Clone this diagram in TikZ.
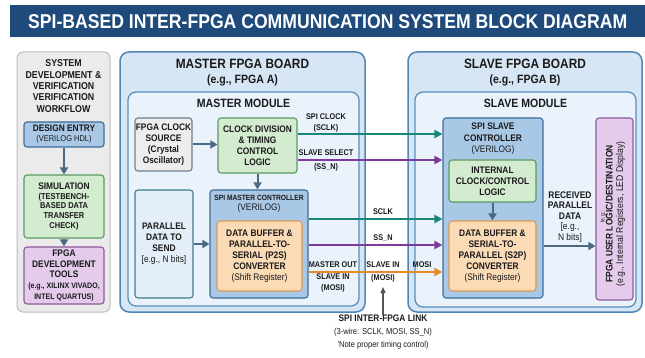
\documentclass[tikz,border=0pt]{standalone}
\usepackage{fontspec}
\setmainfont{Liberation Sans}[FakeStretch=0.88]
\usetikzlibrary{arrows.meta}
\definecolor{navy}{HTML}{1E4B7B}
\definecolor{txt}{HTML}{1A1A1A}
\definecolor{panelf}{HTML}{EBEBEB}
\definecolor{panell}{HTML}{BDBDBD}
\definecolor{boardf}{HTML}{D6E6F4}
\definecolor{boardl}{HTML}{4F86B5}
\definecolor{modf}{HTML}{EAF3FB}
\definecolor{modl}{HTML}{5A8FBE}
\definecolor{grayf}{HTML}{EDEDED}
\definecolor{grayl}{HTML}{6F7F8E}
\definecolor{greenf}{HTML}{D3EBCF}
\definecolor{greenl}{HTML}{5A9A62}
\definecolor{bluef}{HTML}{A9C8E6}
\definecolor{bluel}{HTML}{3F6C9C}
\definecolor{orangef}{HTML}{FBDAB6}
\definecolor{orangel}{HTML}{D99A52}
\definecolor{purplef}{HTML}{E4CBEC}
\definecolor{purplel}{HTML}{8C5C9C}
\definecolor{lbluef}{HTML}{E3EEF8}
\definecolor{lbluel}{HTML}{3D7F8C}
\definecolor{tealc}{HTML}{17877A}
\definecolor{purpc}{HTML}{7B3A9C}
\definecolor{orangec}{HTML}{E8892A}
\definecolor{arrc}{HTML}{4B6A84}
\definecolor{grayarr}{HTML}{555555}
\tikzset{
  every node/.style={text=txt},
  box/.style={draw, rounded corners=3pt, line width=1.1pt, inner sep=0pt, align=center,
    font=\bfseries\fontsize{9.5}{11}\selectfont},
  grayb/.style={box, fill=grayf, draw=grayl},
  greenb/.style={box, fill=greenf, draw=greenl},
  blueb/.style={box, fill=bluef, draw=bluel},
  orangeb/.style={box, fill=orangef, draw=orangel},
  purpleb/.style={box, fill=purplef, draw=purplel},
  lblueb/.style={box, fill=lbluef, draw=lbluel},
  board/.style={draw=boardl, fill=boardf, line width=1.5pt, rounded corners=9pt, inner sep=0pt},
  module/.style={draw=modl, fill=modf, line width=1.3pt, rounded corners=8pt, inner sep=0pt},
  btitle/.style={inner sep=0pt, align=center, font=\bfseries\fontsize{13.5}{15}\selectfont},
  mtitle/.style={inner sep=0pt, font=\bfseries\fontsize{12}{14}\selectfont},
  lbl/.style={inner sep=0pt, align=center, font=\bfseries\fontsize{8.3}{10.5}\selectfont},
  sig/.style={line width=2pt, -{Triangle[length=8pt,width=8pt]}},
  darr/.style={draw=arrc, line width=2pt, -{Triangle[length=7pt,width=8pt]}},
  garr/.style={draw=grayarr, line width=1.2pt, -{Triangle[length=6pt,width=5pt]}},
}
\begin{document}
\begin{tikzpicture}[x=1pt,y=-1pt]
\useasboundingbox (0,0) rectangle (645,358);
% title
\node[fill=navy, minimum width=635pt, minimum height=32pt, anchor=north west, inner sep=0pt,
  text=white, font=\bfseries\fontsize{20}{24}\selectfont] (title) at (10,5)
  {SPI-BASED INTER-FPGA COMMUNICATION SYSTEM BLOCK DIAGRAM};
% left workflow panel
\node[draw=panell, fill=panelf, line width=1pt, rounded corners=6pt, minimum width=93pt, minimum height=260pt] (wf) at (63.5,182) {};
\node[inner sep=0pt, align=center, font=\bfseries\fontsize{10}{11.3}\selectfont] (wft) at (63.5,86)
  {SYSTEM\\DEVELOPMENT \&\\VERIFICATION\\VERIFICATION\\WORKFLOW};
\node[blueb, minimum width=80pt, minimum height=25pt, font=\bfseries\fontsize{9.5}{10}\selectfont] (de) at (64,134.5)
  {DESIGN ENTRY\\{\mdseries\fontsize{8.5}{10}\selectfont (VERILOG HDL)}};
\node[greenb, minimum width=80pt, minimum height=63pt, font=\bfseries\fontsize{8.5}{9.8}\selectfont] (sim) at (64,206.5)
  {{\fontsize{9.5}{11}\selectfont SIMULATION}\\(TESTBENCH-\\BASED DATA\\TRANSFER\\CHECK)};
\node[purpleb, minimum width=80pt, minimum height=57pt, font=\bfseries\fontsize{9.5}{10.8}\selectfont] (tools) at (64,275.5)
  {FPGA\\DEVELOPMENT\\TOOLS\\{\fontsize{8}{9}\selectfont (e.g., XILINX VIVADO,}\\{\fontsize{8}{9}\selectfont INTEL QUARTUS)}};
\draw[darr] (de) -- (sim);
\draw[darr] (sim) -- (tools);
% master board
\node[board, minimum width=245pt, minimum height=260pt] (mb) at (242.5,182) {};
\node[btitle] (mbt) at (242.5,72.5) {MASTER FPGA BOARD\\{\fontsize{12}{14}\selectfont (e.g., FPGA A)}};
\node[module, minimum width=231pt, minimum height=214pt] (mm) at (243.5,199) {};
\node[mtitle] (mmt) at (243.5,103) {MASTER MODULE};
\node[grayb, minimum width=57pt, minimum height=53pt] (cs) at (163.5,144.5)
  {FPGA CLOCK\\SOURCE\\(Crystal\\Oscillator)};
\node[greenb, minimum width=79pt, minimum height=55pt] (cd) at (257.5,145.5)
  {CLOCK DIVISION\\\& TIMING\\CONTROL\\LOGIC};
\node[lblueb, minimum width=58pt, minimum height=108pt] (pd) at (164,244)
  {PARALLEL\\DATA TO\\SEND\\{\mdseries [e.g., N bits]}};
\node[blueb, minimum width=98pt, minimum height=108pt] (mc) at (259,244) {};
\node[inner sep=0pt, align=center, font=\bfseries\fontsize{7.6}{10}\selectfont] (mct) at (259,204)
  {SPI MASTER CONTROLLER\\{\mdseries\fontsize{9.5}{11}\selectfont (VERILOG)}};
\node[orangeb, minimum width=85pt, minimum height=70pt] (p2s) at (259.5,256)
  {DATA BUFFER \&\\PARALLEL-TO-\\SERIAL (P2S)\\CONVERTER\\{\mdseries (Shift Register)}};
\draw[darr] (cs) -- (cs -| cd.west);
\draw[darr] (cd.south) -- (cd.south |- mc.north);
\draw[darr] (pd) -- (pd -| mc.west);
% slave board
\node[board, minimum width=234pt, minimum height=260pt] (sb) at (525,182) {};
\node[btitle] (sbt) at (525,72.5) {SLAVE FPGA BOARD\\{\fontsize{12}{14}\selectfont (e.g., FPGA B)}};
\node[module, minimum width=221pt, minimum height=215pt] (sm) at (525.5,199.5) {};
\node[mtitle] (smt) at (525.5,103) {SLAVE MODULE};
\node[blueb, minimum width=100pt, minimum height=180pt] (sc) at (493,208) {};
\node[inner sep=0pt, align=center, font=\bfseries\fontsize{9.5}{11.5}\selectfont] (sct) at (493,139)
  {SPI SLAVE\\CONTROLLER\\{\mdseries (VERILOG)}};
\node[greenb, minimum width=87pt, minimum height=42pt] (ic) at (492.5,181)
  {INTERNAL\\CLOCK/CONTROL\\LOGIC};
\node[orangeb, minimum width=87pt, minimum height=70pt] (s2p) at (492.5,256)
  {DATA BUFFER \&\\SERIAL-TO-\\PARALLEL (S2P)\\CONVERTER\\{\mdseries (Shift Register)}};
\node[purpleb, minimum width=37pt, minimum height=182pt] (ul) at (614.5,209) {};
\node[rotate=90, inner sep=0pt, align=center, font=\bfseries\fontsize{9.6}{10.5}\selectfont] (ult) at (615.5,214)
  {FPGA USER LOGIC/DESTINATION\\{\mdseries\fontsize{9.8}{10.5}\selectfont (e.g., Internal Registers, LED Display)}};
\node[rotate=90, inner sep=0pt, font=\fontsize{6}{6}\selectfont] (ulx) at (603,216.5) {le.g.:};
\node[inner sep=0pt, align=center, font=\bfseries\fontsize{9.6}{10.4}\selectfont] (rpd) at (570,217)
  {RECEIVED\\PARALLEL\\DATA\\{\mdseries [e.g.,}\\{\mdseries N bits]}};
\draw[darr] (ic.south) -- (s2p.north);
\coordinate (yf) at (0,246);
\draw[darr] (sc.east |- yf) -- (ul.west |- yf);
% SPI signals
\coordinate (ya) at (0,134);
\coordinate (yb) at (0,160);
\coordinate (yc) at (0,219);
\coordinate (yd) at (0,245);
\coordinate (ye) at (0,272);
\draw[sig, draw=tealc, tealc] (cd.east |- ya) -- (sc.west |- ya);
\draw[sig, draw=purpc, purpc] (cd.east |- yb) -- (sc.west |- yb);
\draw[sig, draw=tealc, tealc] (mc.east |- yc) -- (sc.west |- yc);
\draw[sig, draw=purpc, purpc] (mc.east |- yd) -- (sc.west |- yd);
\draw[sig, draw=orangec, orangec] (mc.east |- ye) -- (sc.west |- ye);
\node[lbl] (l1) at (326,123) {SPI CLOCK\\(SCLK)};
\node[lbl] (l2) at (326,153) {SLAVE SELECT};
\node[lbl] (l3) at (326,167) {(SS\_N)};
\node[lbl] (l4) at (383,212) {SCLK};
\node[lbl] (l5) at (383,238.5) {SS\_N};
\node[lbl] (l6) at (333,265) {MASTER OUT};
\node[lbl] (l7) at (333,283) {SLAVE IN\\(MOSI)};
\node[lbl] (l8) at (383,265) {SLAVE IN};
\node[lbl] (l9) at (383,278.5) {(MOSI)};
\node[lbl] (l10) at (422,265) {MOSI};
\node[inner sep=0pt, align=center, font=\bfseries\fontsize{9.5}{13}\selectfont] (link) at (383,332)
  {SPI INTER-FPGA LINK\\{\mdseries\fontsize{8.6}{11}\selectfont (3-wire: SCLK, MOSI, SS\_N)}\\{\mdseries\fontsize{8.6}{11}\selectfont 'Note proper timing control)}};
\coordinate (lk) at (383,287);
\draw[garr] (link.north) -- (lk);
\end{tikzpicture}
\end{document}
